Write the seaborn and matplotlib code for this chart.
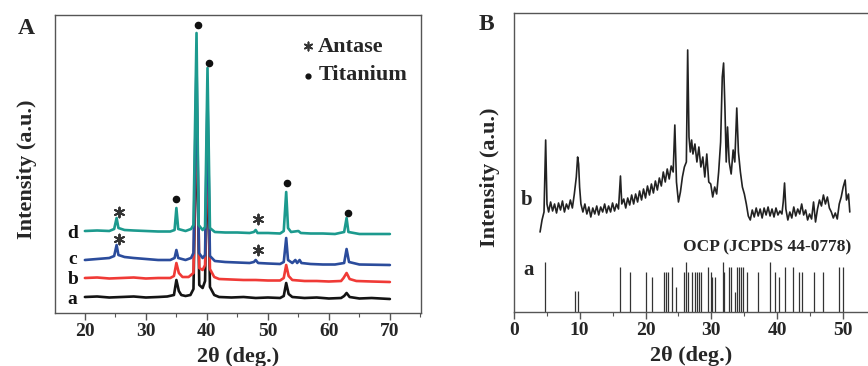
import matplotlib
matplotlib.use("Agg")
import matplotlib.pyplot as plt
from matplotlib.ticker import MultipleLocator
import seaborn as sns
import pandas as pd

# ---------------- Panel A data (2theta, intensity) ----------------
a_x = [20, 22, 24, 26, 28, 30, 32, 33.5, 34.6, 35.0, 35.4, 35.8, 36.5, 37.3, 37.8, 38.3, 38.75,
       39.3, 39.7, 40.1, 40.5, 41.2, 42, 44, 46, 48, 50, 52, 52.6, 53.0, 53.4, 54, 56, 58, 60,
       62, 62.5, 62.9, 63.4, 65, 67, 70]
a_y = [16, 16.5, 15.5, 16, 16.5, 15.5, 16, 16.5, 18, 33, 22, 18, 17, 18, 24, 200, 28,
       25, 32, 170, 26, 18, 16, 15.5, 16, 15, 15.5, 15, 17, 30, 19, 16, 15, 15.5, 14.5,
       15, 17, 20, 16, 14.5, 15, 14]

b_x = [20, 22, 24, 26, 28, 30, 32, 34, 34.6, 35.0, 35.4, 36, 37, 37.8, 38.3, 38.75, 39.3, 39.7,
       40.1, 40.5, 41.2, 42, 44, 46, 48, 50, 52, 52.6, 53.0, 53.4, 54, 56, 58, 60, 62, 62.4,
       62.9, 63.4, 64.5, 67, 70]
b_y = [35, 35.5, 34.5, 35, 35.5, 34.5, 35, 35, 37, 50, 40, 36, 36, 40, 220, 45, 43, 48,
       190, 44, 36, 34, 33.5, 33, 33, 32.5, 32.5, 35, 48, 37, 33, 32, 32, 31.5, 32, 35,
       40, 34, 32, 31.5, 31]

c_x = [20, 22, 24, 24.8, 25.2, 25.5, 26.5, 28, 30, 32, 34, 34.7, 35.0, 35.3, 36.5, 37.4, 37.8,
       38.3, 38.7, 39.3, 39.7, 40.1, 40.5, 41.3, 43, 45, 47, 47.7, 48.0, 48.4, 50, 52, 52.6,
       53.0, 53.3, 54, 54.5, 54.8, 55.2, 55.5, 57, 59, 61, 62.5, 62.9, 63.3, 65, 70]
c_y = [53, 54, 55, 57, 68, 58, 56, 55, 54, 53, 53, 55, 63, 55, 53, 55, 60,
       250, 60, 55, 58, 215, 57, 52, 51, 50.5, 50, 51, 53, 50, 49.5, 49, 51,
       75, 53, 50, 53, 50, 53, 50, 49, 48.5, 48.5, 50, 64, 51, 48.5, 48]

d_x = [20, 22, 24, 24.8, 25.2, 25.5, 26.5, 28, 30, 32, 34, 34.7, 35.0, 35.3, 36.5, 37.4, 37.8,
       38.3, 38.65, 39.3, 39.7, 40.1, 40.5, 41.3, 43, 45, 47, 47.7, 48.0, 48.3, 50, 52, 52.6,
       53.0, 53.3, 53.8, 55, 55.4, 57, 59, 61, 62.5, 62.9, 63.2, 65, 70]
d_y = [82, 82.5, 82, 84, 95, 85, 83, 82.5, 82, 81.5, 81.5, 83, 105, 84, 82, 84, 88,
       280, 88, 83, 86, 245, 85, 81, 80.5, 80.5, 80, 81, 83, 80, 80, 79.5, 82,
       121, 85, 81, 82, 80, 79.5, 79.5, 79, 81, 95, 81, 79, 79]

series_names = ["a", "b", "c", "d"]
series_colors = ["#141414", "#f03a36", "#2b4c9c", "#1c9a8e"]
label_y = [16, 35, 56, 82]

titanium_x = [35.0, 38.6, 40.3, 53.1, 63.1]
titanium_y = [114, 288, 250, 130, 100]
antase_x = [25.6, 25.6, 48.3, 48.3]
antase_y = [101, 74, 94, 63]

# ---------------- Panel B data ----------------
ocp_x = [4.0, 4.3, 4.6, 4.85, 5.05, 5.3, 5.6, 5.9, 6.2, 6.5, 6.8, 7.1, 7.4, 7.7, 8.0, 8.3, 8.6,
         8.9, 9.2, 9.5, 9.7, 9.85, 10.0, 10.2, 10.5, 10.8, 11.1, 11.4, 11.7, 12.0, 12.3, 12.6,
         12.9, 13.2, 13.5, 13.8, 14.1, 14.4, 14.7, 15.0, 15.3, 15.6, 15.9, 16.2, 16.4, 16.7,
         17.0, 17.3, 17.6, 17.9, 18.2, 18.5, 18.8, 19.1, 19.4, 19.7, 20.0, 20.3, 20.6, 20.9,
         21.2, 21.5, 21.8, 22.1, 22.4, 22.7, 23.0, 23.3, 23.6, 23.9, 24.2, 24.45, 24.7, 25.0,
         25.3, 25.6, 25.9, 26.2, 26.4, 26.6, 26.8, 27.0, 27.2, 27.5, 27.8, 28.1, 28.4, 28.7,
         29.0, 29.3, 29.6, 29.9, 30.2, 30.5, 30.8, 31.1, 31.4, 31.65, 31.85, 32.05, 32.25,
         32.45, 32.7, 33.0, 33.3, 33.55, 33.85, 34.1, 34.4, 34.7, 35.0, 35.3, 35.6, 35.9,
         36.2, 36.5, 36.8, 37.1, 37.4, 37.7, 38.0, 38.3, 38.6, 38.9, 39.2, 39.5, 39.8, 40.1,
         40.4, 40.7, 40.9, 41.1, 41.3, 41.6, 41.9, 42.2, 42.5, 42.8, 43.1, 43.4, 43.7, 44.0,
         44.3, 44.6, 44.9, 45.2, 45.5, 45.8, 46.1, 46.4, 46.7, 47.0, 47.3, 47.6, 47.9, 48.2,
         48.5, 48.8, 49.1, 49.4, 49.7, 50.0, 50.3, 50.5, 50.8, 51.0]
ocp_y = [80, 92, 100, 172, 108, 100, 110, 101, 108, 99, 109, 102, 111, 100, 108, 103, 112,
         104, 118, 135, 155, 148, 125, 108, 100, 108, 98, 105, 95, 104, 98, 106,
         97, 105, 100, 108, 99, 106, 100, 109, 101, 108, 103, 136, 108, 113,
         104, 114, 107, 117, 108, 118, 110, 121, 112, 123, 114, 126, 117, 128,
         119, 131, 122, 134, 126, 140, 130, 143, 133, 146, 140, 187, 130, 110,
         120, 135, 145, 150, 262, 175, 160, 172, 158, 168, 150, 165, 145, 155,
         135, 158, 130, 128, 115, 125, 118, 140, 170, 235, 249, 205, 150,
         185, 150, 138, 162, 150, 204, 160, 140, 125, 118, 108, 96, 92,
         102, 95, 104, 96, 103, 94, 104, 97, 105, 96, 103, 95, 104, 97,
         101, 98, 110, 129, 103, 92, 100, 94, 105, 96, 103, 98, 108, 97,
         102, 92, 98, 93, 110, 90, 103, 112, 106, 117, 108, 115, 104, 100,
         94, 99, 93, 108, 115, 125, 132, 112, 118, 100]

stick_x = [4.75, 9.35, 9.75, 16.2, 17.6, 20.1, 20.95, 22.85, 23.05, 23.35, 24.0, 24.6, 25.8,
           26.15, 26.5, 27.1, 27.45, 27.8, 28.1, 28.45, 29.5, 29.9, 30.1, 30.55, 31.75, 31.9,
           32.65, 32.9, 33.65, 33.85, 34.2, 34.5, 34.8, 35.4, 37.0, 38.95, 39.7, 40.25, 41.2,
           42.35, 43.35, 43.75, 45.55, 46.95, 49.35, 49.9]
stick_h = [50, 21, 21, 45, 40, 40, 35, 40, 40, 40, 45, 25, 40,
           50, 40, 40, 40, 40, 40, 40, 45, 40, 35, 35, 50, 40,
           45, 45, 20, 45, 45, 45, 45, 40, 40, 50, 40, 35, 45,
           45, 40, 40, 40, 40, 45, 45]

# ---------------- Styling ----------------
sns.set_style("ticks")
plt.rcParams["font.family"] = ["Liberation Serif", "DejaVu Serif"]
plt.rcParams["font.weight"] = "bold"
plt.rcParams["axes.labelweight"] = "bold"

fig = plt.figure(figsize=(8.68, 3.66), dpi=100)
axA = fig.add_axes([55 / 868, 53 / 366, 366 / 868, 298 / 366])
axB = fig.add_axes([513.7 / 868, 54 / 366, (868 - 513.7) / 868, 299 / 366])

spine_col = "#555555"
for ax in (axA, axB):
    for s in ax.spines.values():
        s.set_color(spine_col)
        s.set_linewidth(1.0)
    ax.tick_params(axis="x", which="major", direction="out", length=5, width=1.0,
                   color=spine_col, labelsize=14, pad=2)
    ax.tick_params(axis="x", which="minor", direction="out", length=3, width=0.8,
                   color=spine_col)
    ax.tick_params(axis="y", left=False, labelleft=False)

# ---- Panel A ----
traces = [(a_x, a_y), (b_x, b_y), (c_x, c_y), (d_x, d_y)]
for name, (xs, ys), col, ly in zip(series_names, traces, series_colors, label_y):
    df = pd.DataFrame({"two_theta": xs, "intensity": ys})
    sns.lineplot(data=df, x="two_theta", y="intensity", ax=axA, color=col, lw=1.9,
                 sort=False, estimator=None)
    axA.text(18.0, ly, name, fontsize=14, fontweight="bold", ha="center",
             va="center_baseline", color="#111111")

axA.scatter(titanium_x, titanium_y, s=20, color="#111111", zorder=5)
axA.scatter(antase_x, antase_y, s=50, marker=(6, 2, 0), color="#333333", linewidths=1.4,
            zorder=5)

axA.set_xlim(15.1, 75.1)
axA.set_ylim(0, 298)
axA.xaxis.set_major_locator(MultipleLocator(10))
axA.xaxis.set_minor_locator(MultipleLocator(5))
axA.set_xlabel("2θ (deg.)", fontsize=16, fontweight="bold", labelpad=5)
axA.set_ylabel("")

axA.scatter([0.69], [0.895], transform=axA.transAxes, s=36, marker=(6, 2, 0),
            color="#333333", linewidths=1.2)
axA.text(0.717, 0.893, "Antase", transform=axA.transAxes, fontsize=16,
         fontweight="bold", ha="left", va="center")
axA.scatter([0.692], [0.795], transform=axA.transAxes, s=12, color="#111111")
axA.text(0.72, 0.80, "Titanium", transform=axA.transAxes, fontsize=16,
         fontweight="bold", ha="left", va="center")
fig.text(26 / 868, 1 - 28 / 366, "A", fontsize=17, fontweight="bold", ha="center",
         va="center")
fig.text(27 / 868, 1 - 169 / 366, "Intensity (a.u.)", fontsize=16, fontweight="bold",
         rotation=90, ha="center", va="center")

# ---- Panel B ----
dfB = pd.DataFrame({"two_theta": ocp_x, "intensity": ocp_y})
sns.lineplot(data=dfB, x="two_theta", y="intensity", ax=axB, color="#222222", lw=1.2,
             sort=False, estimator=None)
axB.vlines(stick_x, 0, stick_h, color="#333333", lw=0.9)
axB.set_xlim(0, (868 - 513.7) / 6.59)
axB.set_ylim(0, 299)
axB.spines["right"].set_visible(False)
axB.xaxis.set_major_locator(MultipleLocator(10))
axB.xaxis.set_minor_locator(MultipleLocator(5))
axB.set_xlabel("2θ (deg.)", fontsize=16, fontweight="bold", labelpad=5)
axB.set_ylabel("")
axB.text(2.0, 112, "b", fontsize=15, fontweight="bold", ha="center", va="center")
axB.text(2.3, 42, "a", fontsize=15, fontweight="bold", ha="center", va="center")
axB.text(51.2, 65, "OCP (JCPDS 44-0778)", fontsize=12.5, fontweight="bold", ha="right",
         va="center")
fig.text(486 / 868, 1 - 25 / 366, "B", fontsize=17, fontweight="bold", ha="center",
         va="center")
fig.text(490 / 868, 1 - 177 / 366, "Intensity (a.u.)", fontsize=16, fontweight="bold",
         rotation=90, ha="center", va="center")

for ax in (axA, axB):
    for lab in ax.get_xticklabels():
        lab.set_fontweight("bold")

fig.savefig("out.png", dpi=100)
